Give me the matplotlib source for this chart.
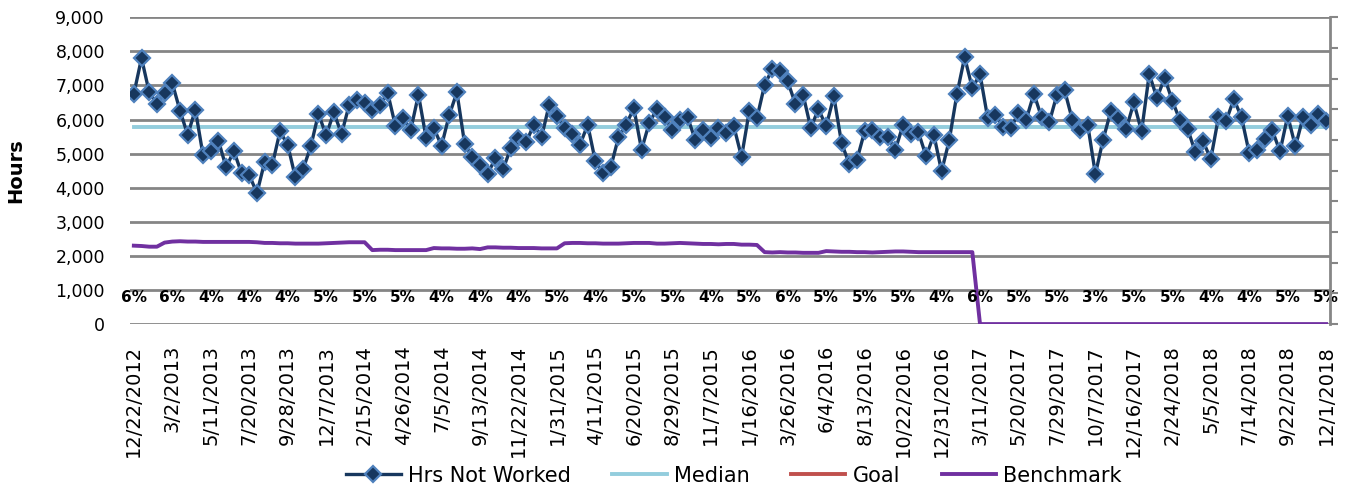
import numpy as np
import matplotlib.pyplot as plt

# bi-weekly pay periods, 12/22/2012 .. 12/1/2018
hrs_not_worked = [
    6750, 7800, 6800, 6460, 6780, 7070, 6260, 5550, 6290, 4950,
    5065, 5380, 4595, 5075, 4430, 4380, 3840, 4750, 4670, 5650,
    5260, 4300, 4545, 5210, 6170, 5535, 6210, 5575, 6435, 6580,
    6480, 6290, 6435, 6780, 5820, 6040, 5700, 6730, 5455, 5750,
    5230, 6130, 6800, 5290, 4900, 4670, 4400, 4870, 4545, 5160,
    5455, 5330, 5850, 5485, 6435, 6090, 5750, 5575, 5260, 5850,
    4770, 4430, 4605, 5475, 5850, 6335, 5115, 5900, 6310, 6070,
    5700, 5995, 6060, 5390, 5680, 5455, 5750, 5600, 5800, 4900,
    6240, 6040, 7020, 7480, 7410, 7120, 6460, 6730, 5750, 6310,
    5800, 6680, 5310, 4700, 4820, 5650, 5700, 5485, 5475, 5115,
    5850, 5575, 5620, 4920, 5555, 4480, 5390, 6750, 7830, 6920,
    7330, 6040, 6140, 5780, 5750, 6190, 5995, 6760, 6070, 5915,
    6730, 6855, 5995, 5700, 5850, 4400, 5410, 6240, 6040, 5720,
    6500, 5650, 7335, 6630, 7220, 6550, 5975, 5720, 5035, 5360,
    4840, 6070, 5965, 6600, 6060, 5015, 5115, 5430, 5680, 5065,
    6110, 5210, 6070, 5850, 6170, 5965,
]

benchmark = [
    2300, 2290, 2270, 2270, 2390, 2420, 2430, 2420, 2420, 2410,
    2410, 2410, 2410, 2410, 2410, 2410, 2400, 2380, 2380, 2370,
    2370, 2360, 2360, 2360, 2360, 2370, 2380, 2390, 2400, 2400,
    2400, 2170, 2180, 2180, 2170, 2170, 2170, 2170, 2170, 2230,
    2220, 2220, 2210, 2210, 2220, 2200, 2250, 2250, 2240, 2240,
    2230, 2230, 2230, 2220, 2220, 2220, 2370, 2380, 2380, 2370,
    2370, 2360, 2360, 2360, 2370, 2380, 2380, 2380, 2360, 2360,
    2370, 2380, 2370, 2360, 2350, 2350, 2340, 2350, 2350, 2330,
    2330, 2320, 2110, 2100, 2110, 2100, 2100, 2090, 2090, 2090,
    2140, 2130, 2120, 2120, 2110, 2110, 2100, 2110, 2120, 2130,
    2130, 2120, 2110, 2110, 2110, 2110, 2110, 2110, 2110, 2110,
    0, 0, 0, 0, 0, 0, 0, 0, 0, 0,
    0, 0, 0, 0, 0, 0, 0, 0, 0, 0,
    0, 0, 0, 0, 0, 0, 0, 0, 0, 0,
    0, 0, 0, 0, 0, 0, 0, 0, 0, 0,
    0, 0, 0, 0, 0, 0,
]

median_hrs = 5775

date_labels = [
    "12/22/2012", "3/2/2013", "5/11/2013", "7/20/2013", "9/28/2013",
    "12/7/2013", "2/15/2014", "4/26/2014", "7/5/2014", "9/13/2014",
    "11/22/2014", "1/31/2015", "4/11/2015", "6/20/2015", "8/29/2015",
    "11/7/2015", "1/16/2016", "3/26/2016", "6/4/2016", "8/13/2016",
    "10/22/2016", "12/31/2016", "3/11/2017", "5/20/2017", "7/29/2017",
    "10/7/2017", "12/16/2017", "2/24/2018", "5/5/2018", "7/14/2018",
    "9/22/2018", "12/1/2018",
]

pct_labels = [
    "6%", "6%", "4%", "4%", "4%", "5%", "5%", "5%", "4%", "4%",
    "4%", "5%", "4%", "5%", "5%", "4%", "5%", "6%", "5%", "5%",
    "5%", "4%", "6%", "5%", "5%", "3%", "5%", "5%", "4%", "4%",
    "5%", "5%",
]

n = len(hrs_not_worked)
x = np.arange(n)
label_step = 5

fig, ax = plt.subplots(figsize=(13.47, 4.91), dpi=100)
fig.subplots_adjust(left=0.0965, right=0.9874, top=0.9648, bottom=0.340)

ax.plot(x, hrs_not_worked, color="#17375E", lw=2.4, marker="D", ms=7.8,
        mfc="#17375E", mec="#4F81BD", mew=1.6, label="Hrs Not Worked", zorder=4)
ax.plot(x, [median_hrs] * n, color="#93CDDD", lw=2.8, label="Median", zorder=3)
ax.plot([], [], color="#C0504D", lw=2.8, label="Goal")
ax.plot(x, benchmark, color="#7030A0", lw=2.8, label="Benchmark", zorder=3)

# percentage labels under the series
for k, txt in enumerate(pct_labels):
    ax.text(k * label_step, 790, txt, ha="center", va="center",
            fontsize=11, fontweight="bold", color="black", zorder=5)

ax.set_xlim(-0.5, n - 0.5)
ax.set_ylim(0, 9000)
ax.set_yticks(np.arange(0, 9001, 1000))
ax.set_yticklabels([f"{v:,}" for v in range(0, 9001, 1000)])
ax.set_xticks(np.arange(0, n, label_step))
ax.set_xticklabels(date_labels, rotation=90, ha="center", va="top")
ax.tick_params(axis="x", length=0, pad=15, labelsize=14)
ax.tick_params(axis="y", length=0, pad=18, labelsize=12.5)
ax.set_ylabel("Hours", fontsize=14, fontweight="bold", labelpad=22)

ax.yaxis.grid(True, color="#858585", lw=2)
ax.set_axisbelow(True)
for side in ["top", "left", "bottom", "right"]:
    ax.spines[side].set_visible(False)

# secondary axis, ticks only
ax2 = ax.twinx()
ax2.set_ylim(0, 10)
ax2.set_yticks(range(11))
ax2.set_yticklabels([])
ax2.tick_params(axis="y", length=6, width=1.5, color="#868686", direction="out")
for side in ["top", "left", "bottom"]:
    ax2.spines[side].set_visible(False)
ax2.spines["right"].set_color("#868686")
ax2.spines["right"].set_linewidth(2)

fig.legend(*ax.get_legend_handles_labels(), loc="center",
           bbox_to_anchor=(0.545, 0.031), ncol=4, frameon=False,
           prop={"size": 15}, handlelength=2.6, handletextpad=0.35,
           columnspacing=2.0)

fig.savefig("out.png", dpi=100)
